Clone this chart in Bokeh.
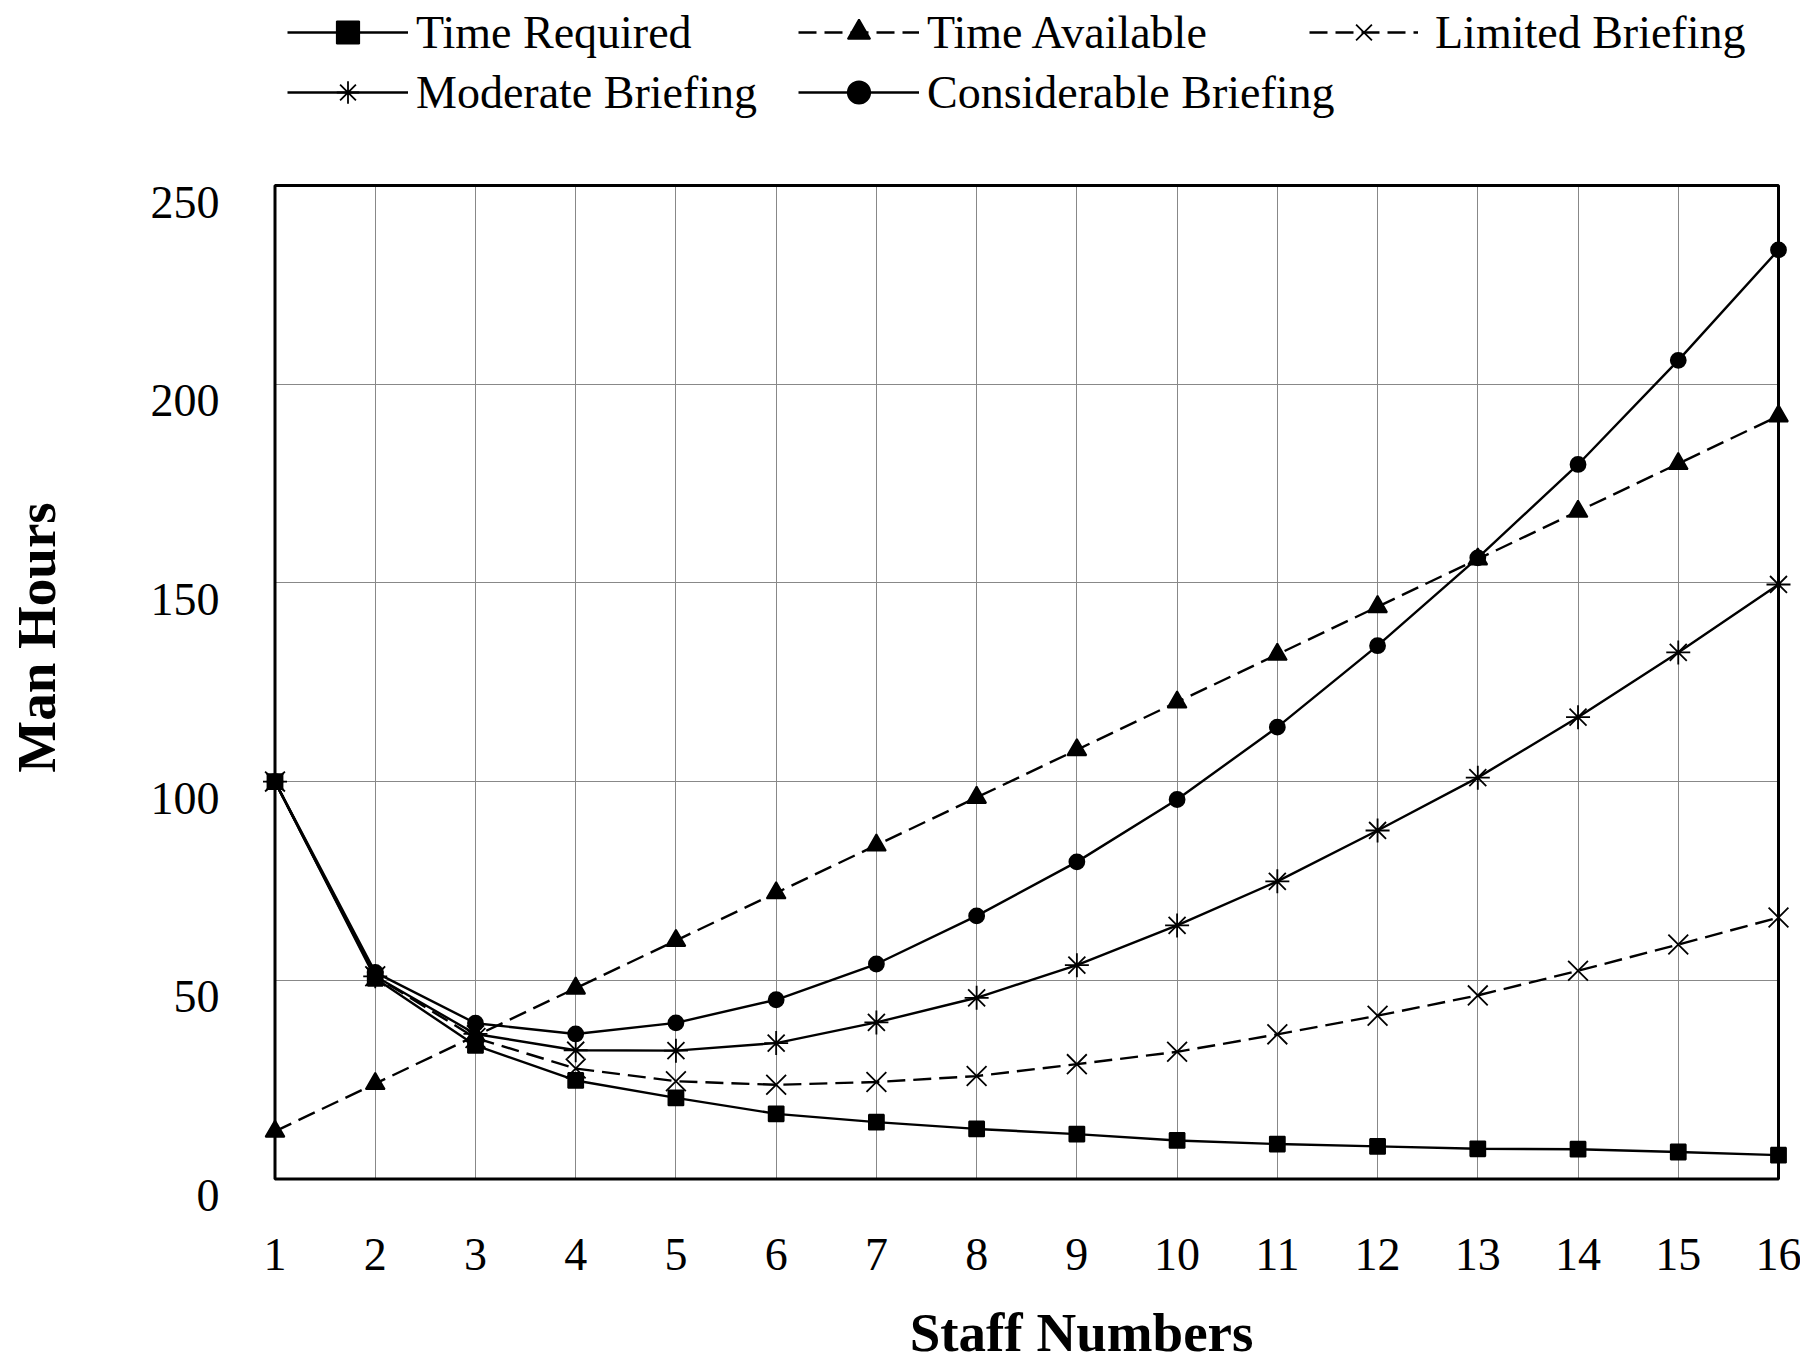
import math
from bokeh.plotting import figure
from bokeh.models import Range1d, FixedTicker, Grid, BoxAnnotation, Legend, LegendItem
from bokeh.core.properties import value
from bokeh.embed import file_html
from bokeh.resources import INLINE

# ---- data ----
staff = [1, 2, 3, 4, 5, 6, 7, 8, 9, 10, 11, 12, 13, 14, 15, 16]
time_required = [100, 50.5, 33.6, 24.8, 20.4, 16.4, 14.3, 12.6, 11.3, 9.7, 8.8, 8.2, 7.6, 7.5, 6.8, 6.0]
time_available = [12, 24, 36, 48, 60, 72, 84, 96, 108, 120, 132, 144, 156, 168, 180, 192]
limited_briefing = [100, 51, 35.5, 27.8, 24.6, 23.7, 24.4, 25.9, 28.9, 32.0, 36.4, 41.1, 46.2, 52.4, 59.0, 65.8]
moderate_briefing = [100, 51, 36.5, 32.4, 32.3, 34.2, 39.4, 45.6, 53.8, 63.8, 74.9, 87.7, 101.0, 116.2, 132.5, 149.6]
considerable_briefing = [100, 52, 39.2, 36.5, 39.3, 45.1, 54.1, 66.2, 79.8, 95.5, 113.7, 134.2, 156.3, 179.8, 206.0, 233.8]
y_ticks = [0, 50, 100, 150, 200, 250]
x_labels = [str(s) for s in staff]
y_labels = [str(v) for v in y_ticks]
x_title = "Staff Numbers"
y_title = "Man Hours"

FONT = "Liberation Serif"
W, H = 1800, 1365

# plot-area placement in pixels (frame covers the whole canvas)
PX_L, PX_R, PX_T, PX_B = 274.5, 1778.0, 185.0, 1178.5
XMIN, XMAX, YMIN, YMAX = 1, 16, 0, 250
sx = (PX_R - PX_L) / (XMAX - XMIN)
sy = (PX_B - PX_T) / (YMAX - YMIN)

def dx(px):
    return XMIN + (px - PX_L) / sx

def dy(py):
    return YMIN + (PX_B - py) / sy

p = figure(width=W, height=H, output_backend="svg", toolbar_location=None, title=None,
           x_range=Range1d(dx(0), dx(W)), y_range=Range1d(dy(H), dy(0)),
           x_axis_type=None, y_axis_type=None,
           min_border=0, min_border_left=0, min_border_right=0, min_border_top=0, min_border_bottom=0)
p.outline_line_color = None
p.background_fill_color = "white"
p.border_fill_color = "white"
p.grid.visible = False

xg = Grid(dimension=0, ticker=FixedTicker(ticks=staff), bounds=(XMIN, XMAX), cross_bounds=(YMIN, YMAX),
          grid_line_color="#888888", grid_line_width=1)
yg = Grid(dimension=1, ticker=FixedTicker(ticks=y_ticks), bounds=(YMIN, YMAX), cross_bounds=(XMIN, XMAX),
          grid_line_color="#888888", grid_line_width=1)
p.add_layout(xg)
p.add_layout(yg)
p.add_layout(BoxAnnotation(left=XMIN, right=XMAX, bottom=YMIN, top=YMAX, fill_alpha=0,
                           line_color="black", line_alpha=1.0, line_width=3, level="underlay"))

# tick labels
p.text(x=staff, y=[dy(1254)] * len(staff), text=x_labels, text_align="center", text_baseline="middle",
       text_font=value(FONT), text_font_size="46px", text_color="black")
p.text(x=[dx(219)] * len(y_ticks), y=[v - 16.5 / sy for v in y_ticks], text=y_labels,
       text_align="right", text_baseline="middle",
       text_font=value(FONT), text_font_size="46px", text_color="black")
# axis titles
p.text(x=[dx(36)], y=[dy(637)], text=[y_title], angle=math.pi / 2, text_align="center",
       text_baseline="middle", text_font=value(FONT), text_font_size="55px",
       text_font_style="bold", text_color="black")
p.text(x=[dx(1081)], y=[dy(1332)], text=[x_title], text_align="center", text_baseline="middle",
       text_font=value(FONT), text_font_size="55px", text_font_style="bold", text_color="black")

series = [
    ("Time Required", time_required, "square", None, 15),
    ("Time Available", time_available, "triangle", "18 8", 19),
    ("Limited Briefing", limited_briefing, "x", "18 8", 28),
    ("Moderate Briefing", moderate_briefing, "asterisk", None, 24),
    ("Considerable Briefing", considerable_briefing, "circle", None, 15),
]

# legend item placement: (glyph left px, row centre px, glyph width, label standoff)
legend_place = [(287, 32, 121, 8), (798, 32, 121, 8), (1309, 32, 109, 17),
                (287, 92, 121, 8), (798, 92, 121, 8)]
ITEM_H = 56

for (name, vals, marker, dash, size), (gx, cy, gw, st) in zip(series, legend_place):
    kw = {}
    if dash:
        kw["line_dash"] = dash
    lr = p.line(staff, vals, line_color="black", line_width=2.4, **kw)
    sr = p.scatter(staff, vals, marker=marker, size=size, fill_color="black",
                   line_color="black", line_width=1.8)
    lg = Legend(items=[LegendItem(label=name, renderers=[lr, sr])],
                location=(gx, H - (cy + ITEM_H / 2)),
                orientation="horizontal", glyph_width=gw, glyph_height=ITEM_H, label_height=ITEM_H,
                label_text_font=FONT, label_text_font_size="46px", label_text_color="black",
                label_standoff=st, padding=0, margin=0, spacing=0,
                border_line_color=None, background_fill_alpha=0)
    p.add_layout(lg)

open("out.html", "w").write(file_html(p, INLINE))
